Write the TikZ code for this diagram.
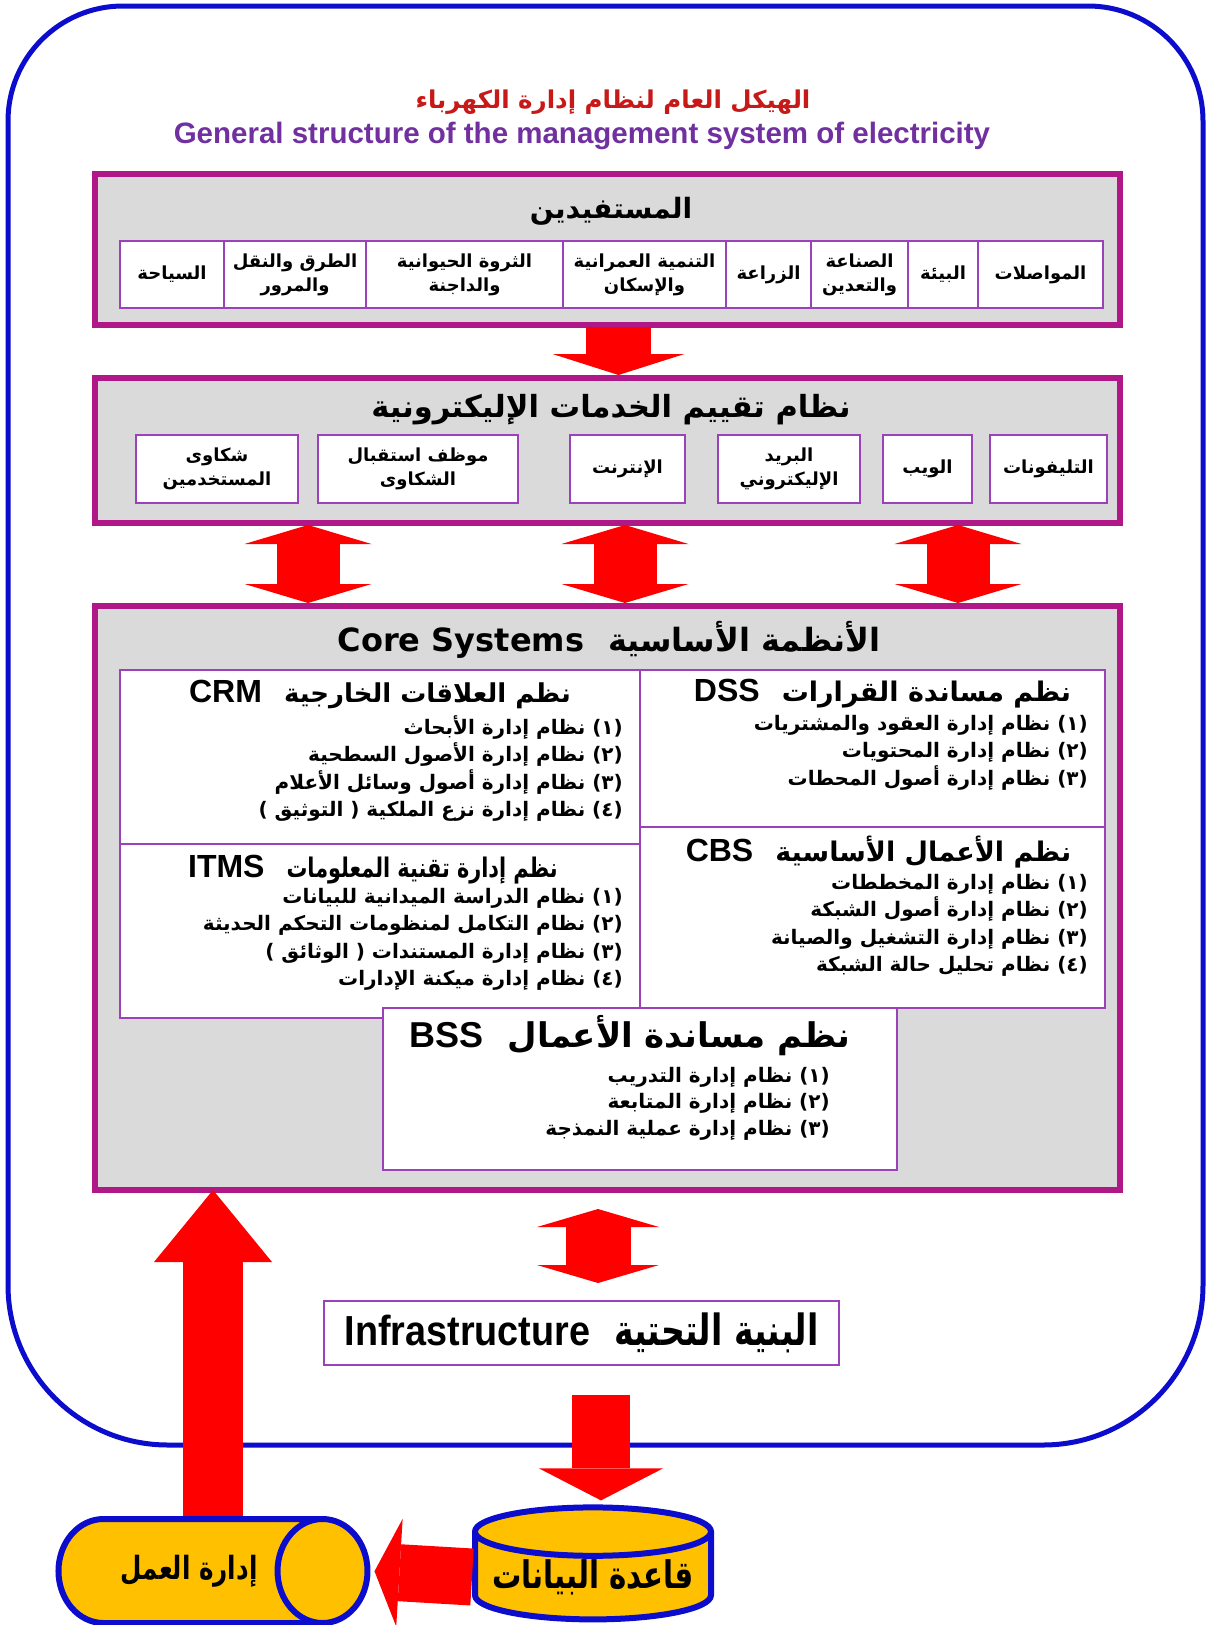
\documentclass[tikz,border=0pt]{standalone}
\usepackage{fontspec}
\usetikzlibrary{positioning,calc,arrows.meta,shapes.geometric}
\TeXXeTstate=1
\newfontfamily\arfont[Script=Arabic]{DejaVu Sans}
\newfontfamily\arnarrow[Script=Arabic,FakeStretch=0.77]{DejaVu Sans}
\newfontfamily\enfont{Liberation Sans}
\newfontfamily\ennarrow[FakeStretch=0.9]{Liberation Sans}
\newfontfamily\corefont{DejaVu Sans}
\newcommand{\ar}[1]{\beginR#1\endR}
\newcommand{\nmr}[1]{\beginL(#1)\endL}
\newcommand{\inparen}[1]{\beginL{\corefont(} \ar{#1} {\corefont)}\endL}
\newcommand{\fsz}[2]{\fontsize{#1}{#2}\selectfont}
\definecolor{frameM}{RGB}{176,24,136}
\definecolor{cellP}{RGB}{155,65,185}
\definecolor{panelG}{RGB}{218,218,218}
\definecolor{arrowR}{RGB}{255,0,0}
\definecolor{outerB}{RGB}{12,12,204}
\definecolor{titleR}{RGB}{200,25,25}
\definecolor{titleP}{RGB}{112,48,160}
\definecolor{cylY}{RGB}{255,192,0}

\begin{document}
\begin{tikzpicture}[x=1pt,y=-1pt,
  panel/.style={draw=frameM,line width=6pt,fill=panelG,inner sep=0pt,outer sep=0pt},
  cell/.style={draw=cellP,line width=2pt,fill=white,inner sep=0pt,outer sep=0pt,
    minimum height=67pt,align=center,font=\arfont\bfseries\fsz{18pt}{24pt}},
  svc/.style={cell,minimum height=68pt},
  sysbox/.style={draw=cellP,line width=2.5pt,fill=white,inner sep=0pt,outer sep=0pt},
  syshead/.style={font=\bfseries\fsz{27pt}{34pt}},
  sysitems/.style={anchor=north east,align=right,inner sep=0pt,
    font=\arfont\bfseries\fsz{20pt}{27.5pt}},
  blockarrow/.style n args={3}{draw=arrowR,line width=#1,
    -{Triangle[length=#2 0 0,width=#3 0 0,line width=0pt]}},
  blockboth/.style n args={3}{draw=arrowR,line width=#1,
    {Triangle[length=#2 0 0,width=#3 0 0,line width=0pt]}-{Triangle[length=#2 0 0,width=#3 0 0,line width=0pt]}},
  drum/.style={cylinder,draw=outerB,line width=6pt,fill=cylY,inner sep=0pt}]
  \useasboundingbox (0,0) rectangle (1210,1625);

  % outer frame
  \draw[outerB,line width=5pt] (8,700) [rounded corners=115pt] |- (600,6) -| (1203,700)
    [rounded corners=160pt] |- (600,1445) -| (8,700) -- cycle;

  \node[text=titleR,font=\arfont\bfseries\fsz{24.5pt}{30pt}] (titleAr) at (613,102)
    {\ar{الهيكل العام لنظام إدارة الكهرباء}};
  \node[text=titleP,font=\enfont\bfseries\fsz{29.5pt}{34pt}] (titleEn) at (582,136)
    {General structure of the management system of electricity};

  % beneficiaries
  \node[panel,minimum width=1025pt,minimum height=151pt] (benef) at (607.5,249.5) {};
  \node[font=\arfont\bfseries\fsz{28pt}{34pt}] (benefHead) at (611,211) {\ar{المستفيدين}};
  \node[cell,minimum width=125pt] (b1) at (1040.5,274.5) {\ar{المواصلات}};
  \node[cell,minimum width=70pt,left=0pt of b1] (b2) {\ar{البيئة}};
  \node[cell,minimum width=97pt,left=0pt of b2] (b3) {\ar{الصناعة}\\\ar{والتعدين}};
  \node[cell,minimum width=85pt,left=0pt of b3] (b4) {\ar{الزراعة}};
  \node[cell,minimum width=163pt,left=0pt of b4] (b5) {\ar{التنمية العمرانية}\\\ar{والإسكان}};
  \node[cell,minimum width=197pt,left=0pt of b5] (b6) {\ar{الثروة الحيوانية}\\\ar{والداجنة}};
  \node[cell,minimum width=142pt,left=0pt of b6] (b7) {\ar{الطرق والنقل}\\\ar{والمرور}};
  \node[cell,minimum width=104pt,left=0pt of b7] (b8) {\ar{السياحة}};

  % e-services
  \node[panel,minimum width=1025pt,minimum height=145pt] (eserv) at (607.5,450.5) {};
  \node[font=\arfont\bfseries\fsz{30.5pt}{38pt}] (eservHead) at (611,410)
    {\ar{نظام تقييم الخدمات الإليكترونية}};
  \node[svc,minimum width=117pt] (s1) at (1048.5,469) {\ar{التليفونات}};
  \node[svc,minimum width=89pt,left=18pt of s1] (s2) {\ar{الويب}};
  \node[svc,minimum width=142pt,left=23pt of s2] (s3) {\ar{البريد}\\\ar{الإليكتروني}};
  \node[svc,minimum width=115pt,left=33pt of s3] (s4) {\ar{الإنترنت}};
  \node[svc,minimum width=200pt,left=52pt of s4] (s5) {\ar{موظف استقبال}\\\ar{الشكاوى}};
  \node[svc,minimum width=162pt,left=20pt of s5] (s6) {\ar{شكاوى}\\\ar{المستخدمين}};

  % core systems
  \node[panel,minimum width=1025pt,minimum height=584pt] (core) at (607.5,898) {};
  \node[font=\bfseries\fsz{32pt}{38pt}] (coreHead) at (609,640)
    {{\corefont Core Systems}\hspace{24pt}{\arfont\ar{الأنظمة الأساسية}}};
  \node[sysbox,minimum width=465pt,minimum height=157pt] (dss) at (872.5,748.5) {};
  \node[sysbox,minimum width=520pt,minimum height=174pt,anchor=north east] (crm) at (dss.north west) {};
  \node[sysbox,minimum width=465pt,minimum height=181pt,below=0pt of dss] (cbs) {};
  \node[sysbox,minimum width=520pt,minimum height=174pt,below=0pt of crm] (itms) {};
  \node[sysbox,minimum width=514pt,minimum height=162pt,anchor=north] (bss) at (cbs.south west) {};

  \node[syshead] (dssHead) at ($(dss.north)+(10,24)$)
    {{\enfont\fsz{32pt}{36pt}DSS}\hspace{22pt}{\arfont\ar{نظم مساندة القرارات}}};
  \node[sysitems] (dssList) at ($(dss.north east)+(-17,45)$)
    {\ar{\nmr{١} نظام إدارة العقود والمشتريات}\\
     \ar{\nmr{٢} نظام إدارة المحتويات}\\
     \ar{\nmr{٣} نظام إدارة أصول المحطات}};

  \node[syshead] (crmHead) at ($(crm.north)+(0,24)$)
    {{\enfont\fsz{32pt}{36pt}CRM}\hspace{22pt}{\arfont\fsz{26pt}{34pt}\ar{نظم العلاقات الخارجية}}};
  \node[sysitems] (crmList) at ($(crm.north east)+(-17,45)$)
    {\ar{\nmr{١} نظام إدارة الأبحاث}\\
     \ar{\nmr{٢} نظام إدارة الأصول السطحية}\\
     \ar{\nmr{٣} نظام إدارة أصول وسائل الأعلام}\\
     \ar{\nmr{٤} نظام إدارة نزع الملكية \inparen{التوثيق}}};

  \node[syshead] (cbsHead) at ($(cbs.north)+(6,25)$)
    {{\enfont\fsz{32pt}{36pt}CBS}\hspace{22pt}{\arfont\ar{نظم الأعمال الأساسية}}};
  \node[sysitems] (cbsList) at ($(cbs.north east)+(-17,47)$)
    {\ar{\nmr{١} نظام إدارة المخططات}\\
     \ar{\nmr{٢} نظام إدارة أصول الشبكة}\\
     \ar{\nmr{٣} نظام إدارة التشغيل والصيانة}\\
     \ar{\nmr{٤} نظام تحليل حالة الشبكة}};

  \node[syshead] (itmsHead) at ($(itms.north)+(-7,26)$)
    {{\enfont\fsz{32pt}{36pt}ITMS}\hspace{22pt}{\arnarrow\fsz{27pt}{34pt}\ar{نظم إدارة تقنية المعلومات}}};
  \node[sysitems] (itmsList) at ($(itms.north east)+(-17,44)$)
    {\ar{\nmr{١} نظام الدراسة الميدانية للبيانات}\\
     \ar{\nmr{٢} نظام التكامل لمنظومات التحكم الحديثة}\\
     \ar{\nmr{٣} نظام إدارة المستندات \inparen{الوثائق}}\\
     \ar{\nmr{٤} نظام إدارة ميكنة الإدارات}};

  \node[syshead,font=\bfseries\fsz{34pt}{40pt}] (bssHead) at ($(bss.north)+(-10,28)$)
    {{\enfont\fsz{36pt}{40pt}BSS}\hspace{24pt}{\arfont\ar{نظم مساندة الأعمال}}};
  \node[sysitems,font=\arfont\bfseries\fsz{20pt}{26.5pt}] (bssList) at ($(bss.north east)+(-67,59)$)
    {\ar{\nmr{١} نظام إدارة التدريب}\\
     \ar{\nmr{٢} نظام إدارة المتابعة}\\
     \ar{\nmr{٣} نظام إدارة عملية النمذجة}};

  % infrastructure and storage
  \node[draw=cellP,line width=2.5pt,fill=white,minimum width=515pt,minimum height=64pt,
    inner sep=0pt,outer sep=0pt] (infra) at (581.5,1333)
    {{\ennarrow\bfseries\fsz{42pt}{46pt}Infrastructure}\hspace{24pt}{\arnarrow\bfseries\fsz{43pt}{46pt}\ar{البنية التحتية}}};
  \node[drum,shape border rotate=90,aspect=0.24,minimum width=236pt,minimum height=112pt] (db)
    at (593,1577) {\arnarrow\bfseries\fsz{38pt}{44pt}\ar{قاعدة البيانات}};
  \node[drum,aspect=2.8,minimum height=309pt,minimum width=104pt] (work)
    at (189,1571) {\arnarrow\bfseries\fsz{32pt}{38pt}\ar{إدارة العمل}};

  % arrows
  \draw[blockarrow={65pt}{21pt}{132pt},shorten <=2pt,shorten >=3pt]
    ($(benef.south)+(11,0)$) -- ($(eserv.north)+(11,0)$);
  \foreach \x in {308,625,958}
    \draw[blockboth={63pt}{19pt}{127pt},shorten <=2pt,shorten >=3pt]
      (\x,0 |- eserv.south) -- (\x,0 |- core.north);
  \draw[blockboth={65pt}{18pt}{122pt},shorten <=19pt,shorten >=18pt]
    (598,0 |- core.south) -- (598,0 |- infra.north);
  \draw[blockarrow={58pt}{32pt}{124pt},shorten <=30pt,shorten >=4pt]
    ($(db.north |- infra.south)+(8,0)$) -- ($(db.north)+(8,0)$);
  \draw[blockarrow={57pt}{25pt}{108pt},shorten >=4pt] (db.west) -- (work.east);
  \draw[blockarrow={60pt}{72pt}{118pt}]
    ($(work.north)+(24,0)$) -- ($(work.north |- core.south)+(24,0)$);
\end{tikzpicture}
\end{document}
